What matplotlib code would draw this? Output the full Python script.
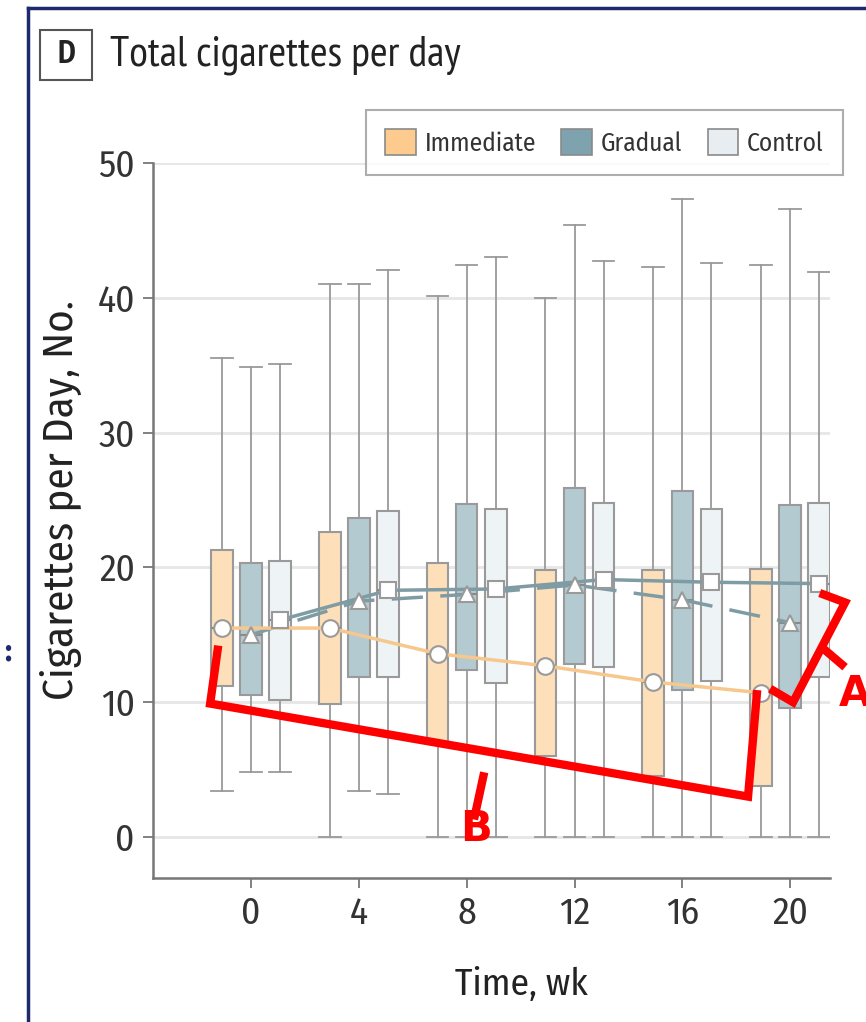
import matplotlib
matplotlib.use("Agg")
import matplotlib.pyplot as plt
from matplotlib.patches import Patch, Rectangle
from matplotlib.lines import Line2D

plt.rcParams["font.family"] = ["Fira Sans Condensed", "DejaVu Sans"]
title_font = ["PT Sans Narrow", "DejaVu Sans"]

# Dados
weeks = [0, 4, 8, 12, 16, 20]

imm_whishi = [35.5, 41.0, 40.1, 40.0, 42.3, 42.4]
imm_q3 = [21.3, 22.6, 20.3, 19.8, 19.8, 19.9]
imm_med = [15.5, 15.5, 13.6, 12.7, 11.5, 10.7]
imm_q1 = [11.2, 9.9, 7.0, 6.0, 4.5, 3.8]
imm_whislo = [3.4, 0, 0, 0, 0, 0]

gr_whishi = [34.9, 41.0, 42.4, 45.4, 47.3, 46.6]
gr_q3 = [20.3, 23.7, 24.7, 25.9, 25.7, 24.6]
gr_med = [15.0, 17.5, 18.0, 18.7, 17.6, 15.9]
gr_q1 = [10.5, 11.9, 12.4, 12.8, 10.9, 9.6]
gr_whislo = [4.8, 3.4, 0, 0, 0, 0]

ct_whishi = [35.1, 42.1, 43.0, 42.7, 42.6, 41.9]
ct_q3 = [20.5, 24.2, 24.3, 24.8, 24.3, 24.8]
ct_med = [16.1, 18.3, 18.4, 19.1, 18.9, 18.8]
ct_q1 = [10.2, 11.9, 11.4, 12.6, 11.6, 11.9]
ct_whislo = [4.8, 3.2, 0, 0, 0, 0]

groups = ["Immediate", "Gradual", "Control"]
y_ticks = [0, 10, 20, 30, 40, 50]

# anotacoes vermelhas (coordenadas de dados)
bracket_b = [(-1.22, 14.2), (-1.52, 9.9), (18.44, 3.0), (18.78, 10.9)]
stem_b = [(8.65, 4.8), (8.27, 1.3)]
bracket_a = [(21.1, 18.1), (22.04, 17.4), (20.11, 10.0), (19.26, 11.0)]
stem_a = [(21.22, 14.0), (22.04, 12.6)]

box_fill = ["#FDDFBA", "#B4CAD1", "#EEF3F6"]
legend_fill = ["#FCCB8D", "#7FA2AF", "#E7EDF0"]
line_col = ["#F6C88E", "#7F9CA4", "#7F9CA4"]
markers = ["o", "^", "s"]
offsets = [-1.08, 0.0, 1.08]
edge = "#9A9A9A"

fig = plt.figure(figsize=(8.66, 10.22), dpi=100)
ax = fig.add_axes([0.1767, 0.1409, 0.7817, 0.6996])

stats_all = [
    (imm_whislo, imm_q1, imm_med, imm_q3, imm_whishi),
    (gr_whislo, gr_q1, gr_med, gr_q3, gr_whishi),
    (ct_whislo, ct_q1, ct_med, ct_q3, ct_whishi),
]

for gi, (lo, q1, med, q3, hi) in enumerate(stats_all):
    stats = []
    for i in range(len(weeks)):
        stats.append({"whislo": lo[i], "q1": q1[i], "med": med[i],
                      "q3": q3[i], "whishi": hi[i], "fliers": []})
    pos = [w + offsets[gi] for w in weeks]
    ax.bxp(stats, positions=pos, widths=0.8, capwidths=0.8,
           patch_artist=True, showfliers=False, manage_ticks=False,
           boxprops=dict(facecolor=box_fill[gi], edgecolor=edge, linewidth=1.5),
           whiskerprops=dict(color=edge, linewidth=1.3),
           capprops=dict(color=edge, linewidth=1.3),
           medianprops=dict(color="#8A8A8A", linewidth=1.5),
           zorder=2)

# linhas ligando os marcadores
ax.plot([w + offsets[1] for w in weeks], gr_med, color=line_col[1], lw=2.5,
        dashes=(9, 5), zorder=3)
ax.plot([w + offsets[2] for w in weeks], ct_med, color=line_col[2], lw=2.5, zorder=3)
ax.plot([w + offsets[0] for w in weeks], imm_med, color=line_col[0], lw=2.5, zorder=3)

meds = [imm_med, gr_med, ct_med]
msz = [12, 12, 11]
for gi in range(3):
    ax.plot([w + offsets[gi] for w in weeks], meds[gi], linestyle="none",
            marker=markers[gi], markersize=msz[gi], markerfacecolor="white",
            markeredgecolor="#9A9A9A", markeredgewidth=1.5, zorder=4)

ax.set_xlim(-3.64, 21.48)
ax.set_ylim(-3.04, 50)
ax.set_xticks(weeks)
ax.set_yticks(y_ticks)
ax.tick_params(axis="both", labelsize=27, labelcolor="#333333", length=7,
               width=1.3, pad=6, color="#777777")
ax.grid(axis="y", color="#E6E6E6", linewidth=2, zorder=0)
ax.set_axisbelow(True)
for s in ["top", "right"]:
    ax.spines[s].set_visible(False)
for s in ["left", "bottom"]:
    ax.spines[s].set_color("#777777")
    ax.spines[s].set_linewidth(1.8)

ax.set_xlabel("Time, wk", fontsize=27, color="#222222")
ax.set_ylabel("Cigarettes per Day, No.", fontsize=31, color="#222222")
ax.xaxis.set_label_coords(0.544, -0.124)
ax.yaxis.set_label_coords(-0.105, 0.529)

# anotacoes em vermelho
for pts in [bracket_b, stem_b, bracket_a, stem_a]:
    ax.plot([p[0] for p in pts], [p[1] for p in pts], color="red", lw=6,
            solid_joinstyle="miter", solid_capstyle="butt", clip_on=False, zorder=6)
ax.text(8.35, 0.6, "B", color="red", fontsize=30, fontweight="bold",
        family="DejaVu Sans", ha="center", va="center", clip_on=False, zorder=6)
ax.text(22.4, 10.6, "A", color="red", fontsize=30, fontweight="bold",
        family="DejaVu Sans", ha="center", va="center", clip_on=False, zorder=6)

# legenda
handles = [Patch(facecolor=legend_fill[i], edgecolor="#8A8A8A", linewidth=1.2,
                 label=groups[i]) for i in range(3)]
leg = fig.legend(handles=handles, loc="upper right", bbox_to_anchor=(0.973, 0.892),
                 ncol=3, fontsize=18.3, frameon=True, fancybox=False, borderaxespad=0,
                 handlelength=1.2, handleheight=1.2, handletextpad=0.35,
                 columnspacing=1.0, borderpad=0.75, edgecolor="#999999")
leg.get_frame().set_linewidth(1.5)
for t in leg.get_texts():
    t.set_color("#333333")

# titulo do painel
fig.patches.append(Rectangle((40 / 866, 1 - 80 / 1022), 52 / 866, 50 / 1022,
                             transform=fig.transFigure, facecolor="white",
                             edgecolor="#555555", linewidth=1.5))
fig.text(66 / 866, 1 - 55 / 1022, "D", fontsize=24, fontweight="bold",
         family=title_font, ha="center", va="center", color="#222222")
fig.text(110 / 866, 1 - 55 / 1022, "Total cigarettes per day", fontsize=31,
         family=title_font, ha="left", va="center", color="#222222")

# moldura azul escura
fig.add_artist(Line2D([28 / 866, 28 / 866], [0, 1 - 8 / 1022], color="#1E2A6E",
                      lw=2.5, transform=fig.transFigure))
fig.add_artist(Line2D([28 / 866, 1], [1 - 8 / 1022, 1 - 8 / 1022], color="#1E2A6E",
                      lw=2.5, transform=fig.transFigure))
fig.text(8 / 866, 1 - 652 / 1022, ":", fontsize=22, fontweight="bold",
         color="#1E2A6E", ha="center", va="center")

fig.savefig("out.png", dpi=100)
